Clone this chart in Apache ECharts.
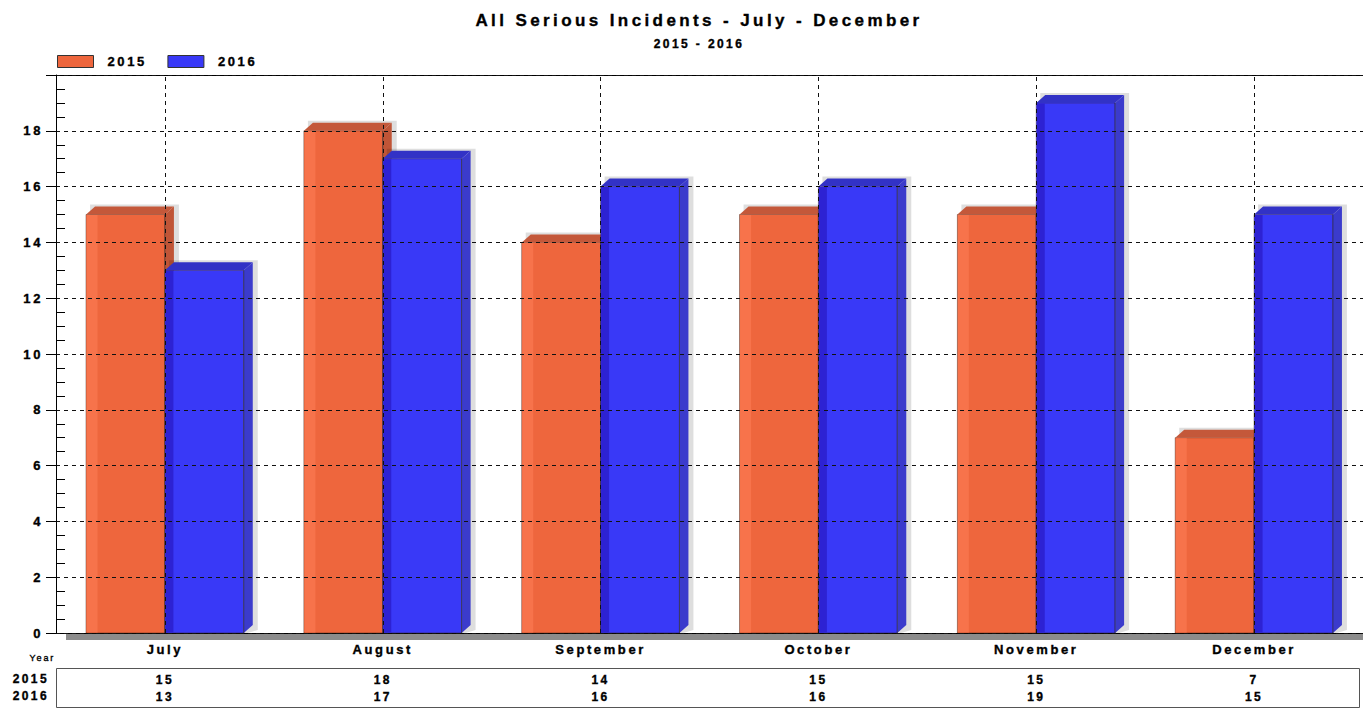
<!DOCTYPE html>
<html>
<head>
    <meta charset="UTF-8">
    <title>All Serious Incidents - July - December</title>
    <script src="https://cdn.jsdelivr.net/npm/echarts@6/dist/echarts.min.js"></script>
    <style>
        html, body { margin: 0; padding: 0; background: #fff; }
        #chart { width: 1363px; height: 709px; }
        /* the original chart uses widely tracked, heavy bold text */
        #chart svg text { letter-spacing: 0.2em; stroke: #000; stroke-width: 0.35px; }
    </style>
</head>
<body>
<div id="chart"></div>
<script type="text/javascript">
    var months = ['July', 'August', 'September', 'October', 'November', 'December'];
    var years = ['2015', '2016'];
    var values2015 = [15, 18, 14, 15, 15, 7];
    var values2016 = [13, 17, 16, 16, 19, 15];
    var yTicks = [0, 2, 4, 6, 8, 10, 12, 14, 16, 18];

    var FONT = 'Liberation Sans';

    // colours for each face of the 3d bars
    var faces = {
        '2015': {front: '#ee663d', strip: '#f7734b', top: '#c4583a', side: '#c05537'},
        '2016': {front: '#3939f7', strip: '#2d22d3', top: '#3232c6', side: '#3b3bcc'}
    };

    function barRenderer(seriesPos, f) {
        return function (params, api) {
            var idx = api.value(0), v = api.value(1);
            var top = api.coord([idx, v]);
            var base = api.coord([idx, 0]);
            var band = api.size([1, 0])[0];
            var w = band * 0.362;
            var x0 = seriesPos === 0 ? top[0] - w : top[0];
            var x1 = x0 + w;
            var y0 = top[1], y1 = base[1];
            var dx = 9, dy = 8;
            var stripW = seriesPos === 0 ? 11 : 8;
            return {
                type: 'group',
                children: [
                    {   // soft shadow
                        type: 'polygon',
                        shape: {points: [[x0 + 4, y0 - dy - 2], [x1 + dx + 5, y0 - dy - 2], [x1 + dx + 5, y1 - 3], [x1 + 4, y1], [x0 + 4, y1]]},
                        style: {fill: 'rgba(0,0,0,0.13)'}
                    },
                    {type: 'rect', shape: {x: x0, y: y0, width: w, height: y1 - y0}, style: {fill: f.front, stroke: 'rgba(60,30,20,0.45)', lineWidth: 1}},
                    {type: 'rect', shape: {x: x0 + 0.5, y: y0 + 0.5, width: stripW, height: y1 - y0 - 1}, style: {fill: f.strip}},
                    {type: 'polygon', shape: {points: [[x0, y0], [x0 + dx, y0 - dy], [x1 + dx, y0 - dy], [x1, y0]]}, style: {fill: f.top}},
                    {type: 'polygon', shape: {points: [[x1, y0], [x1 + dx, y0 - dy], [x1 + dx, y1 - dy], [x1, y1]]}, style: {fill: f.side}},
                    {type: 'line', shape: {x1: x1, y1: y0, x2: x1, y2: y1}, style: {stroke: 'rgba(40,40,40,0.55)', lineWidth: 1}}
                ]
            };
        };
    }

    function rows(vals) {
        return vals.map(function (v, i) { return [i, v]; });
    }

    var chart = echarts.init(document.getElementById('chart'), null, {renderer: 'svg'});
    chart.setOption({
        animation: false,
        textStyle: {fontFamily: FONT},
        title: {
            text: 'All Serious Incidents - July - December',
            subtext: '2015 - 2016',
            left: 694,
            textAlign: 'center',
            top: 7,
            itemGap: 9,
            textStyle: {fontFamily: FONT, fontSize: 17, fontWeight: 'bold', color: '#000'},
            subtextStyle: {fontFamily: FONT, fontSize: 12, fontWeight: 'bold', color: '#000'}
        },
        legend: {
            left: 57,
            top: 55,
            padding: 0,
            icon: 'rect',
            itemWidth: 36,
            itemHeight: 12,
            itemGap: 31,
            data: years,
            itemStyle: {borderColor: '#333', borderWidth: 1},
            textStyle: {fontFamily: FONT, fontSize: 13, fontWeight: 'bold', color: '#000', padding: [0, 0, 0, 9]}
        },
        grid: {left: 56, top: 75, width: 1312, height: 558},
        xAxis: [{
            type: 'category',
            data: months,
            axisLine: {lineStyle: {color: '#000', width: 1}},
            axisTick: {alignWithLabel: true, length: 10, lineStyle: {color: '#000'}},
            axisLabel: {margin: 10, fontFamily: FONT, fontSize: 13, fontWeight: 'bold', color: '#000'},
            splitLine: {show: false}
        }, {
            type: 'category',
            position: 'bottom',
            offset: 37,
            data: values2015.map(String),
            axisLine: {show: false},
            axisTick: {show: false},
            axisLabel: {margin: 4, fontFamily: FONT, fontSize: 12, fontWeight: 'bold', color: '#000'}
        }, {
            type: 'category',
            position: 'bottom',
            offset: 54,
            data: values2016.map(String),
            axisLine: {show: false},
            axisTick: {show: false},
            axisLabel: {margin: 4, fontFamily: FONT, fontSize: 12, fontWeight: 'bold', color: '#000'}
        }],
        yAxis: {
            type: 'value',
            min: 0,
            max: 20,
            interval: 2,
            z: 5,
            axisLine: {show: true, lineStyle: {color: '#000'}},
            axisTick: {show: true, length: 10, lineStyle: {color: '#000'}},
            minorTick: {show: true, splitNumber: 4, length: -9, lineStyle: {color: '#000'}},
            axisLabel: {
                margin: 13, fontFamily: FONT, fontSize: 13, fontWeight: 'bold', color: '#000',
                formatter: function (v) { return yTicks.indexOf(v) >= 0 ? String(v) : ''; }
            },
            splitLine: {show: true, lineStyle: {color: '#111', type: [4, 4], width: 1}}
        },
        graphic: [
            {type: 'rect', shape: {x: 66, y: 634, width: 1300, height: 6}, style: {fill: '#8c8c8c'}, z: 0},
            {type: 'line', shape: {x1: 56, y1: 75.5, x2: 1363, y2: 75.5}, style: {stroke: '#000', lineWidth: 1}},
            {type: 'rect', shape: {x: 56.5, y: 668.5, width: 1303, height: 39}, style: {fill: 'none', stroke: '#555', lineWidth: 1}},
            {type: 'text', x: 55, y: 658, style: {text: 'Year', fontFamily: FONT, fontSize: 9, fill: '#000', align: 'right', verticalAlign: 'middle'}},
            {type: 'text', x: 49, y: 679, style: {text: years[0], fontFamily: FONT, fontSize: 12, fontWeight: 'bold', fill: '#000', align: 'right', verticalAlign: 'middle'}},
            {type: 'text', x: 49, y: 696, style: {text: years[1], fontFamily: FONT, fontSize: 12, fontWeight: 'bold', fill: '#000', align: 'right', verticalAlign: 'middle'}}
        ],
        series: [{
            name: years[0],
            type: 'custom',
            itemStyle: {color: faces['2015'].front},
            renderItem: barRenderer(0, faces['2015']),
            encode: {x: 0, y: 1},
            data: rows(values2015),
            z: 2,
            markLine: {
                silent: true,
                symbol: 'none',
                label: {show: false},
                lineStyle: {color: '#111', type: [4, 4], width: 1},
                z: 6,
                data: months.map(function (m) { return {xAxis: m}; })
            }
        }, {
            name: years[1],
            type: 'custom',
            itemStyle: {color: faces['2016'].front},
            renderItem: barRenderer(1, faces['2016']),
            encode: {x: 0, y: 1},
            data: rows(values2016),
            z: 3
        }]
    });
</script>
</body>
</html>
